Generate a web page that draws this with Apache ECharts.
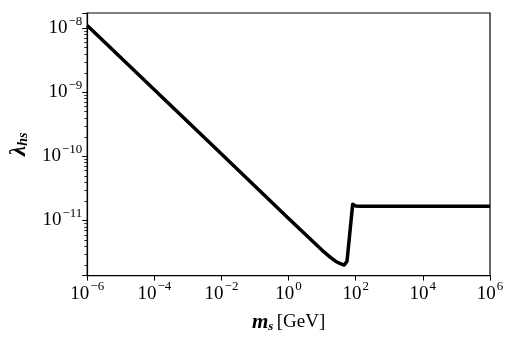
<!DOCTYPE html>
<html>
<head>
<meta charset="utf-8">
<script src="https://cdn.jsdelivr.net/npm/echarts@6/dist/echarts.min.js"></script>
<style>
    html, body { margin: 0; padding: 0; background: #fff; }
    #chart { width: 512px; height: 338px; }
</style>
</head>
<body>
<div id="chart"></div>
<script>
// mass m_s [GeV] and coupling lambda_hs
const massValues = [1e-6, 1e-4, 1e-2, 1, 10, 18, 25, 35, 45, 50, 55, 81, 100, 150, 1e3, 1e4, 1e5, 1e6];
const lambdaValues = [1.10e-8, 1.09e-9, 1.08e-10, 1.07e-11, 3.4e-12, 2.62e-12, 2.3e-12, 2.1e-12, 2.0e-12, 2.05e-12, 2.3e-12,
    1.78e-11, 1.67e-11, 1.66e-11, 1.66e-11, 1.66e-11, 1.66e-11, 1.66e-11];
const yDecades = [-12, -11, -10, -9, -8];
const minorMults = [2, 3, 4, 5, 6, 7, 8, 9];

const yMin = 1.37e-12, yMax = 1.72e-8;
const serif = '"Liberation Serif", "DejaVu Serif", serif';

function powLabel(value) {
    let e = Math.log10(value);
    if (Math.abs(e - Math.round(e)) > 1e-6) return '';
    e = Math.round(e);
    return '{b|10}{s|' + String(e).replace('-', '\u2212') + '}';
}

const labelRich = {
    b: { fontFamily: serif, fontSize: 19, color: '#000', lineHeight: 26 },
    s: { fontFamily: serif, fontSize: 13, color: '#000', lineHeight: 26, padding: [0, 0, 14, 1] }
};

const chart = echarts.init(document.getElementById('chart'));
chart.setOption({
    animation: false,
    grid: { left: 85, right: 22, top: 13, bottom: 62, show: true, borderColor: '#000', borderWidth: 1.2 },
    xAxis: {
        type: 'log',
        logBase: 10,
        min: 1e-6,
        max: 1e6,
        interval: 2,
        name: '{m|m}{ms|s} {g|[GeV]}',
        nameLocation: 'middle',
        nameGap: 36,
        nameTextStyle: {
            rich: {
                m: { fontFamily: serif, fontSize: 21, fontStyle: 'italic', fontWeight: 'bold', color: '#000' },
                ms: { fontFamily: serif, fontSize: 13, fontStyle: 'italic', fontWeight: 'bold', color: '#000', padding: [8, 0, 0, 0] },
                g: { fontFamily: serif, fontSize: 19, color: '#000' }
            }
        },
        axisLine: { lineStyle: { color: '#000', width: 1.2 } },
        axisTick: { length: 5, lineStyle: { color: '#000' } },
        axisLabel: { formatter: powLabel, rich: labelRich, margin: 5, showMinLabel: true, showMaxLabel: true },
        splitLine: { show: false }
    },
    yAxis: {
        type: 'log',
        logBase: 10,
        min: yMin,
        max: yMax,
        name: '{l|\u03bb}{ls|hs}',
        nameLocation: 'middle',
        nameRotate: 90,
        nameGap: 56,
        nameTextStyle: {
            rich: {
                l: { fontFamily: serif, fontSize: 23, fontStyle: 'italic', fontWeight: 'bold', color: '#000' },
                ls: { fontFamily: serif, fontSize: 14, fontStyle: 'italic', fontWeight: 'bold', color: '#000', padding: [8, 0, 0, 0] }
            }
        },
        axisLine: { lineStyle: { color: '#000', width: 1.2 } },
        axisTick: { length: 5, lineStyle: { color: '#000' } },
        axisLabel: { formatter: powLabel, rich: labelRich, margin: 5 },
        splitLine: { show: false }
    },
    series: [{
        type: 'line',
        data: massValues.map((m, i) => [m, lambdaValues[i]]),
        showSymbol: false,
        smooth: false,
        lineStyle: { color: '#000', width: 3.5, join: 'round' },
        clip: true
    }]
});

// log-style minor ticks on the y axis (2..9 x each decade)
const minorTicks = [];
yDecades.forEach(d => {
    minorMults.forEach(k => {
        const v = k * Math.pow(10, d);
        if (v > yMin && v < yMax) {
            const p = chart.convertToPixel({ xAxisIndex: 0, yAxisIndex: 0 }, [1e-6, v]);
            minorTicks.push({
                type: 'line',
                shape: { x1: p[0] - 3, y1: Math.round(p[1]) + 0.5, x2: p[0], y2: Math.round(p[1]) + 0.5 },
                style: { stroke: '#000', lineWidth: 0.8 }
            });
        }
    });
});
chart.setOption({ graphic: minorTicks });
</script>
</body>
</html>
